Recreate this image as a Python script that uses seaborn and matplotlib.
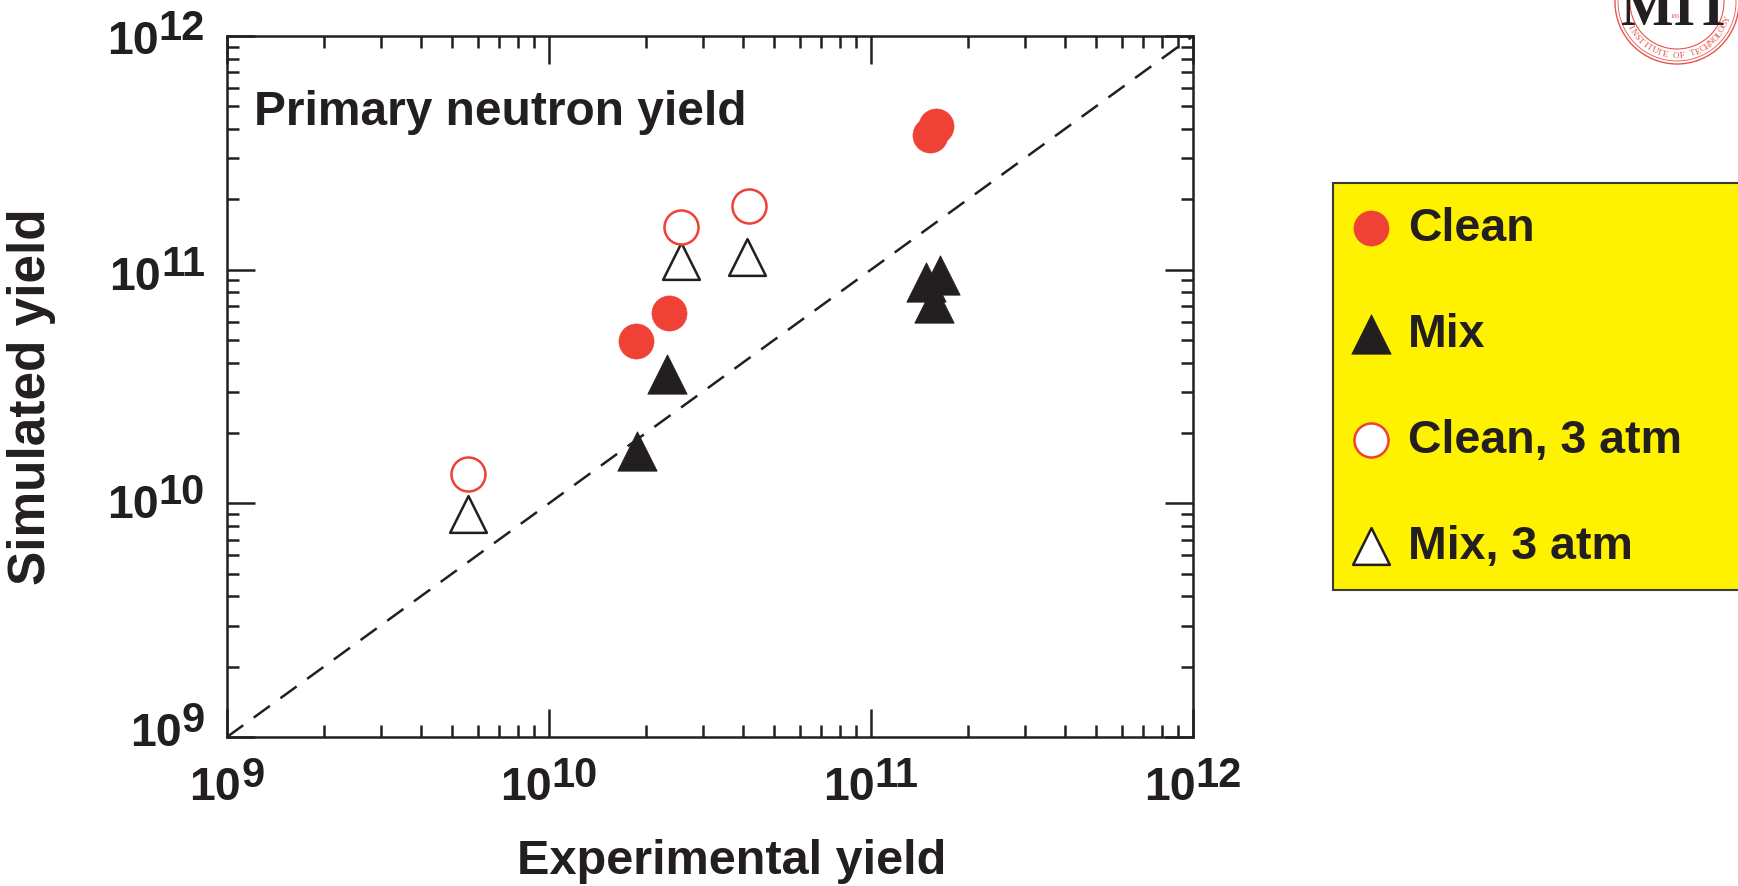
import numpy as np
import matplotlib
matplotlib.use("Agg")
import matplotlib.pyplot as plt
import matplotlib.transforms as mtransforms
from matplotlib.ticker import LogLocator, NullFormatter
from matplotlib.patches import Rectangle, Circle
import seaborn as sns

# ---- data: experimental vs simulated primary neutron yield ----
clean_exp = [1.86e10, 2.36e10, 1.52e11, 1.59e11]
clean_sim = [4.95e10, 6.52e10, 3.77e11, 4.11e11]

mix_exp = [1.87e10, 2.32e10, 1.48e11, 1.64e11, 1.57e11]
mix_sim = [1.67e10, 3.57e10, 8.85e10, 9.49e10, 7.20e10]

clean3_exp = [5.6e9, 2.57e10, 4.18e10]
clean3_sim = [1.33e10, 1.52e11, 1.87e11]

mix3_exp = [5.6e9, 2.57e10, 4.12e10]
mix3_sim = [8.99e9, 1.09e11, 1.13e11]

series_labels = ["Clean", "Mix", "Clean, 3 atm", "Mix, 3 atm"]
decades = [9, 10, 11, 12]

# ---- style ----
RED = "#EF4136"
INK = "#231F20"
YELLOW = "#FFF200"

sns.set_style("ticks")
plt.rcParams["font.family"] = ["Liberation Sans", "DejaVu Sans"]
plt.rcParams["axes.linewidth"] = 1.8
plt.rcParams["axes.edgecolor"] = INK

W, H = 1738, 887
fig = plt.figure(figsize=(W / 100, H / 100), dpi=100)
ax = fig.add_axes([227 / W, 1 - 738 / H, 966 / W, 701 / H])

# 1:1 reference line
lo, hi = 10.0 ** decades[0], 10.0 ** decades[-1]
ax.plot([lo, hi], [lo, hi], ls=(0, (8, 5.2)), lw=1.8, color=INK, zorder=2)

h_mix3 = sns.scatterplot(x=mix3_exp, y=mix3_sim, marker="^", s=700, color="white",
                         edgecolor=INK, linewidth=1.8, ax=ax, zorder=3,
                         label=series_labels[3], legend=False).collections[-1]
h_clean3 = sns.scatterplot(x=clean3_exp, y=clean3_sim, marker="o", s=600, color="white",
                           edgecolor=RED, linewidth=1.8, ax=ax, zorder=4,
                           label=series_labels[2], legend=False).collections[-1]
h_mix = sns.scatterplot(x=mix_exp, y=mix_sim, marker="^", s=800, color=INK,
                        edgecolor=INK, linewidth=0.6, ax=ax, zorder=3,
                        label=series_labels[1], legend=False).collections[-1]
h_clean = sns.scatterplot(x=clean_exp, y=clean_sim, marker="o", s=640, color=RED,
                          edgecolor=RED, linewidth=0.4, ax=ax, zorder=4,
                          label=series_labels[0], legend=False).collections[-1]

ax.set_xscale("log")
ax.set_yscale("log")
ax.set_xlim(lo, hi)
ax.set_ylim(lo, hi)

for axis in (ax.xaxis, ax.yaxis):
    axis.set_major_locator(LogLocator(base=10, numticks=10))
    axis.set_minor_locator(LogLocator(base=10, subs=np.arange(2, 10), numticks=30))
    axis.set_major_formatter(NullFormatter())
    axis.set_minor_formatter(NullFormatter())

ax.tick_params(which="both", direction="in", top=True, right=True,
               width=1.8, color=INK)
ax.tick_params(which="major", length=20)
ax.tick_params(which="minor", length=8.5)
for sp in ax.spines.values():
    sp.set_linewidth(1.8)
    sp.set_color(INK)
    sp.set_visible(True)

# ---- power-of-ten tick labels with large exponents ----
renderer = fig.canvas.get_renderer()
BASE_FS, SUP_FS = 33.5, 30
txt_kw = dict(fontweight="bold", color=INK, va="baseline", ha="left", clip_on=False)


def power_label(trans_base, x, y, exp, place):
    base = ax.text(x, y, "10", fontsize=BASE_FS, transform=trans_base, **txt_kw)
    sup = ax.text(x, y, str(exp), fontsize=SUP_FS, transform=trans_base, **txt_kw)
    wb = base.get_window_extent(renderer).width
    ws = sup.get_window_extent(renderer).width
    (bx, by), (sx, sy) = place(wb, ws)
    base.set_transform(mtransforms.offset_copy(trans_base, fig=fig, x=bx, y=by, units="dots"))
    sup.set_transform(mtransforms.offset_copy(trans_base, fig=fig, x=sx, y=sy, units="dots"))


xtrans = mtransforms.blended_transform_factory(ax.transData, ax.transAxes)
ytrans = mtransforms.blended_transform_factory(ax.transAxes, ax.transData)

for e in decades:
    power_label(xtrans, 10.0 ** e, 0, e,
                lambda wb, ws: ((-(wb + ws) / 2, -62), (-(wb + ws) / 2 + wb, -49)))

y_drop = {9: 8, 10: 14, 11: 19, 12: 17}
for e in decades:
    d = y_drop[e]
    power_label(ytrans, 0, 10.0 ** e, e,
                lambda wb, ws, d=d: ((-22 - ws - wb, -d), (-22 - ws, -d + 14)))

# ---- axis titles and panel caption ----
ax.set_xlabel("Experimental yield", fontsize=35, fontweight="bold", color=INK)
ax.xaxis.set_label_coords(0.522, -0.194)
ax.xaxis.label.set_va("baseline")
ax.set_ylabel("Simulated yield", fontsize=37, fontweight="bold", color=INK)
ax.yaxis.set_label_coords(-0.2019, 0.4864)
ax.yaxis.label.set_va("center")

ax.text(0.028, 0.874, "Primary neutron yield", transform=ax.transAxes,
        fontsize=34.5, fontweight="bold", color=INK, va="baseline", ha="left")

# ---- legend on a yellow panel ----
fig.patches.append(Rectangle((1333 / W, 1 - 591 / H), 500 / W, (591 - 184) / H,
                             transform=fig.transFigure, facecolor=YELLOW,
                             edgecolor="#3A3A3A", linewidth=1.5, zorder=1))
fig.legend([h_clean, h_mix, h_clean3, h_mix3], series_labels,
           loc="upper left", bbox_to_anchor=(1352 / W, 1 - 207 / H),
           bbox_transform=fig.transFigure, frameon=False,
           prop={"weight": "bold", "size": 33.5}, handlelength=0.8,
           handletextpad=0.4, labelspacing=1.335, borderpad=0, borderaxespad=0,
           labelcolor=INK)

# ---- institute seal, top right corner ----
px = mtransforms.Affine2D().scale(1 / W, -1 / H).translate(0, 1) + fig.transFigure
cx, cy = 1677, 3
SEAL = "#E8534A"
for r, lw in ((62, 1.0), (59, 0.6), (47, 0.8)):
    fig.patches.append(Circle((cx, cy), r, transform=px, fill=False,
                              edgecolor=SEAL, linewidth=lw, zorder=2))
motto = "INSTITUTE OF TECHNOLOGY"
for i, ch in enumerate(motto):
    th = np.deg2rad(152 - 6.1 * i)
    fig.text(cx + 53 * np.cos(th), cy + 53 * np.sin(th), ch, transform=px,
             rotation=90 - np.rad2deg(th), fontsize=6.5, color=SEAL,
             family="Liberation Serif", ha="center", va="center",
             rotation_mode="anchor", zorder=3)
fig.text(cx, 16, "1861", transform=px, fontsize=4.5, color=SEAL,
         family="Liberation Serif", ha="center", va="center", zorder=3)
fig.text(cx, 25, "MIT", transform=px, fontsize=40, fontweight="bold",
         family="Liberation Serif", color=INK, ha="center", va="baseline", zorder=4)

fig.savefig("out.png", dpi=100)
